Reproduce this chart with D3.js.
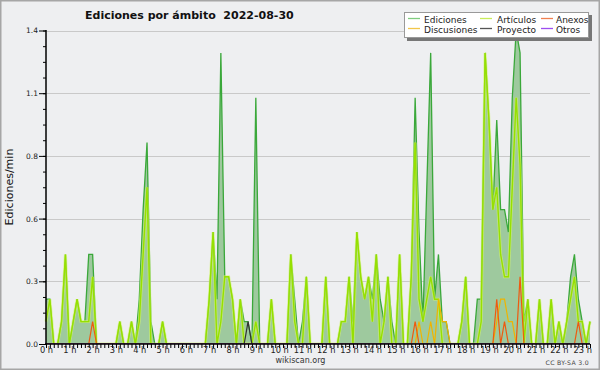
<!DOCTYPE html>
<html>
<head>
<meta charset="utf-8">
<script src="https://cdn.jsdelivr.net/npm/d3@7/dist/d3.min.js"></script>
<style>
  body { margin: 0; background: #fff; }
  svg { display: block; font-family: "DejaVu Sans", sans-serif; }
</style>
</head>
<body>
<svg id="chart" width="600" height="370"></svg>
<script>
// one value per 10 minutes, 00:00 .. 23:20, in edits per minute
// (one row = one hour)
const ediciones = [
  0.2, 0.2, 0, 0, 0.1, 0.4,
  0, 0.1, 0.2, 0.1, 0.1, 0.4,
  0.4, 0, 0, 0, 0, 0,
  0, 0.1, 0, 0, 0.1, 0,
  0.2, 0.6, 0.9, 0.1, 0, 0,
  0.1, 0, 0, 0, 0, 0,
  0, 0, 0, 0, 0, 0,
  0.2, 0.5, 0.2, 1.3, 0.3, 0.3,
  0.2, 0, 0.2, 0.1, 0.1, 0,
  1.1, 0, 0, 0, 0.2, 0,
  0, 0, 0, 0.4, 0.2, 0,
  0.1, 0.3, 0, 0, 0, 0,
  0.3, 0, 0, 0, 0.1, 0.1,
  0.3, 0.1, 0.5, 0.3, 0.2, 0.3,
  0.2, 0.4, 0.2, 0.1, 0.3, 0.1,
  0, 0.4, 0, 0, 0.3, 1.1,
  0.5, 0.1, 0.7, 1.3, 0.2, 0.4,
  0.1, 0.1, 0, 0, 0, 0.1,
  0.3, 0, 0, 0.2, 0.2, 1.3,
  1.0, 0.6, 1.0, 0.6, 0.6, 0.5,
  1.1, 1.4, 1.3, 0.1, 0.2, 0,
  0, 0.2, 0, 0, 0.2, 0,
  0.1, 0, 0.1, 0.3, 0.4, 0.2,
  0.1, 0, 0.1
];
const articulos = [
  0.1, 0.2, 0, 0, 0.1, 0.4,
  0, 0.1, 0.2, 0.1, 0.1, 0.1,
  0.3, 0, 0, 0, 0, 0,
  0, 0.1, 0, 0, 0.1, 0,
  0.1, 0.4, 0.7, 0, 0, 0,
  0.1, 0, 0, 0, 0, 0,
  0, 0, 0, 0, 0, 0,
  0.2, 0.5, 0, 0.1, 0.3, 0.3,
  0.2, 0, 0.2, 0, 0, 0,
  0.1, 0, 0, 0, 0.2, 0,
  0, 0, 0, 0.4, 0.1, 0,
  0, 0.3, 0, 0, 0, 0,
  0.3, 0, 0, 0, 0.1, 0.1,
  0.3, 0, 0.5, 0.3, 0.2, 0.3,
  0.1, 0.4, 0, 0.1, 0.3, 0,
  0, 0.4, 0, 0, 0.3, 0.9,
  0.2, 0.1, 0.2, 0.3, 0.2, 0.2,
  0, 0, 0, 0, 0, 0.1,
  0.3, 0, 0, 0, 0.1, 1.3,
  1.0, 0.6, 0.7, 0.4, 0.3, 0.3,
  0.7, 1.1, 0.8, 0, 0.2, 0,
  0, 0.2, 0, 0, 0.2, 0,
  0.1, 0, 0.1, 0.2, 0.3, 0.1,
  0.1, 0, 0.1
];
const anexos = [
  0, 0, 0, 0, 0, 0,
  0, 0, 0, 0, 0, 0,
  0.1, 0, 0, 0, 0, 0,
  0, 0, 0, 0, 0, 0,
  0, 0, 0, 0, 0, 0,
  0, 0, 0, 0, 0, 0,
  0, 0, 0, 0, 0, 0,
  0, 0, 0, 0, 0, 0,
  0, 0, 0, 0, 0, 0,
  0, 0, 0, 0, 0, 0,
  0, 0, 0, 0, 0, 0,
  0, 0, 0, 0, 0, 0,
  0, 0, 0, 0, 0, 0,
  0, 0, 0, 0, 0, 0,
  0, 0, 0, 0, 0, 0,
  0, 0, 0, 0, 0, 0.1,
  0, 0, 0, 0, 0, 0,
  0, 0, 0, 0, 0, 0,
  0, 0, 0, 0, 0, 0,
  0, 0, 0.2, 0, 0.1, 0,
  0, 0, 0.3, 0, 0, 0,
  0, 0, 0, 0, 0, 0,
  0, 0, 0, 0, 0, 0.1,
  0, 0, 0
];
const discusiones = [
  0, 0, 0, 0, 0, 0,
  0, 0, 0, 0, 0, 0,
  0, 0, 0, 0, 0, 0,
  0, 0, 0, 0, 0, 0,
  0, 0, 0, 0, 0, 0,
  0, 0, 0, 0, 0, 0,
  0, 0, 0, 0, 0, 0,
  0, 0, 0, 0, 0, 0,
  0, 0, 0, 0, 0, 0,
  0, 0, 0, 0, 0, 0,
  0, 0, 0, 0, 0, 0,
  0, 0, 0, 0, 0, 0,
  0, 0, 0, 0, 0, 0,
  0, 0, 0, 0, 0, 0,
  0, 0, 0, 0, 0, 0,
  0, 0, 0, 0, 0, 0,
  0.1, 0, 0, 0.1, 0, 0.2,
  0.1, 0.1, 0, 0, 0, 0,
  0, 0, 0, 0, 0, 0,
  0, 0, 0.1, 0.2, 0.2, 0.1,
  0.1, 0, 0, 0, 0, 0,
  0, 0, 0, 0, 0, 0,
  0, 0, 0, 0, 0, 0,
  0, 0, 0
];
const proyecto = [
  0, 0, 0, 0, 0, 0,
  0, 0, 0, 0, 0, 0,
  0, 0, 0, 0, 0, 0,
  0, 0, 0, 0, 0, 0,
  0, 0, 0, 0, 0, 0,
  0, 0, 0, 0, 0, 0,
  0, 0, 0, 0, 0, 0,
  0, 0, 0, 0, 0, 0,
  0, 0, 0, 0, 0.1, 0,
  0, 0, 0, 0, 0, 0,
  0, 0, 0, 0, 0, 0,
  0, 0, 0, 0, 0, 0,
  0, 0, 0, 0, 0, 0,
  0, 0, 0, 0, 0, 0,
  0, 0, 0, 0, 0, 0,
  0, 0, 0, 0, 0, 0,
  0, 0, 0, 0, 0, 0,
  0, 0, 0, 0, 0, 0,
  0, 0, 0, 0, 0, 0,
  0, 0, 0, 0, 0, 0,
  0, 0, 0, 0, 0, 0,
  0, 0, 0, 0, 0, 0,
  0, 0, 0, 0, 0, 0,
  0, 0, 0
];
const otros = ediciones.map(() => 0);

const hourLabels = d3.range(0, 24).map((h) => h + " h");
const yTicks = [0, 0.28, 0.56, 0.84, 1.12, 1.4];

const legendNames = ["Ediciones", "Artículos", "Anexos", "Discusiones", "Proyecto", "Otros"];
const legendColors = ["#7fcc7f", "#c8ec5a", "#f08050", "#f2c64a", "#555555", "#9d4ef0"];

const svg = d3.select("#chart");
const W = 600, H = 370;

svg.append("rect").attr("width", W).attr("height", H).attr("fill", "#eeeff1");
svg.append("rect").attr("x", 0.75).attr("y", 0.75).attr("width", W - 1.5).attr("height", H - 1.5)
  .attr("fill", "none").attr("stroke", "#a6a6a6").attr("stroke-width", 1.5);

const x = d3.scaleLinear().domain([0, ediciones.length - 1]).range([46, 590]);
const y = d3.scaleLinear().domain([0, 1.4]).range([344, 30.5]);

// grid
svg.append("g").selectAll("line")
  .data(yTicks.slice(1))
  .enter().append("line")
  .attr("x1", 46).attr("x2", 590)
  .attr("y1", (d) => Math.round(y(d)) + 0.5).attr("y2", (d) => Math.round(y(d)) + 0.5)
  .attr("stroke", "#c9c9c9").attr("stroke-width", 1);

svg.append("defs").append("clipPath").attr("id", "plotclip")
  .append("rect").attr("x", 40).attr("y", 0).attr("width", 560).attr("height", 344);

const plot = svg.append("g").attr("clip-path", "url(#plotclip)");

const area = d3.area().x((d, i) => x(i)).y0(y(0)).y1((d) => y(d));
const line = d3.line().x((d, i) => x(i)).y((d) => y(d));

plot.append("path").attr("d", area(ediciones)).attr("fill", "#9ec99e");
plot.append("path").attr("d", line(ediciones))
  .attr("fill", "none").attr("stroke", "#3aa83a").attr("stroke-width", 1.3);

// Artículos, bright line with a soft halo
plot.append("path").attr("d", line(articulos))
  .attr("fill", "none").attr("stroke", "#d4f56a").attr("stroke-width", 3).attr("stroke-opacity", 0.6);
plot.append("path").attr("d", line(articulos))
  .attr("fill", "none").attr("stroke", "#96e000").attr("stroke-width", 1.4);

const others = [
  [discusiones, "#f0b400"],
  [anexos, "#ee5a10"],
  [proyecto, "#333333"],
  [otros, "#8a2be2"]
];
others.forEach(([vals, col]) => {
  plot.append("path").attr("d", line(vals))
    .attr("fill", "none").attr("stroke", col).attr("stroke-width", 1.2);
});

// y axis
svg.append("g")
  .attr("transform", "translate(46,0)")
  .call(d3.axisLeft(y).tickValues(d3.range(0, 21).map((i) => i * 0.07)).tickSize(3).tickFormat(""))
  .call((g) => g.select(".domain").remove());
svg.append("g")
  .attr("transform", "translate(46,0)")
  .call(d3.axisLeft(y).tickValues(yTicks).tickSize(7).tickPadding(1).tickFormat(d3.format(".1f")))
  .call((g) => g.select(".domain").remove())
  .call((g) => g.selectAll("text").attr("font-size", 7.5).attr("fill", "#222").attr("font-family", "DejaVu Sans"));
svg.append("line").attr("x1", 46).attr("x2", 46).attr("y1", 30).attr("y2", 345)
  .attr("stroke", "#000").attr("stroke-width", 1.5);

// x axis
svg.append("g")
  .attr("transform", "translate(0,344)")
  .call(d3.axisBottom(x).tickValues(d3.range(0, ediciones.length)).tickSize(4).tickFormat(""))
  .call((g) => g.select(".domain").remove());
svg.append("g")
  .attr("transform", "translate(0,344)")
  .call(d3.axisBottom(x).tickValues(hourLabels.map((d, i) => i * 6)).tickSize(0).tickPadding(3.5)
    .tickFormat((d) => hourLabels[d / 6]))
  .call((g) => g.select(".domain").remove())
  .call((g) => g.selectAll("text").attr("font-size", 8.3).attr("fill", "#222").attr("font-family", "DejaVu Sans"));
svg.append("line").attr("x1", 45).attr("x2", 590).attr("y1", 344).attr("y2", 344)
  .attr("stroke", "#000").attr("stroke-width", 1.5);

// texts
svg.append("text").attr("x", 85).attr("y", 18.5)
  .attr("font-size", 11).attr("font-weight", "bold").attr("fill", "#111")
  .style("white-space", "pre")
  .text("Ediciones por ámbito  2022-08-30");

svg.append("text")
  .attr("transform", "translate(13,187) rotate(-90)")
  .attr("text-anchor", "middle").attr("font-size", 11).attr("fill", "#111")
  .text("Ediciones/min");

svg.append("text").attr("x", 300.5).attr("y", 363)
  .attr("text-anchor", "middle").attr("font-size", 8).attr("fill", "#333")
  .text("wikiscan.org");

svg.append("text").attr("x", 589).attr("y", 365)
  .attr("text-anchor", "end").attr("font-size", 6.2).attr("fill", "#444")
  .attr("letter-spacing", 0.3)
  .text("CC BY-SA 3.0");

// legend
const lg = svg.append("g");
lg.append("rect").attr("x", 407).attr("y", 15).attr("width", 185).attr("height", 26).attr("fill", "#777");
lg.append("rect").attr("x", 404.5).attr("y", 12.5).attr("width", 184).attr("height", 25)
  .attr("fill", "#fff").attr("stroke", "#999").attr("stroke-width", 1);

const colX = [408, 480, 541];
const textX = [424, 497, 556];
legendNames.forEach((name, i) => {
  const col = i % 3, row = Math.floor(i / 3);
  const ly = 18.5 + row * 10;
  lg.append("line").attr("x1", colX[col]).attr("x2", colX[col] + 12)
    .attr("y1", ly).attr("y2", ly)
    .attr("stroke", legendColors[i]).attr("stroke-width", 1.3);
  lg.append("text").attr("x", textX[col]).attr("y", 22.7 + row * 10)
    .attr("font-size", 9).attr("fill", "#222")
    .text(name);
});
</script>
</body>
</html>
